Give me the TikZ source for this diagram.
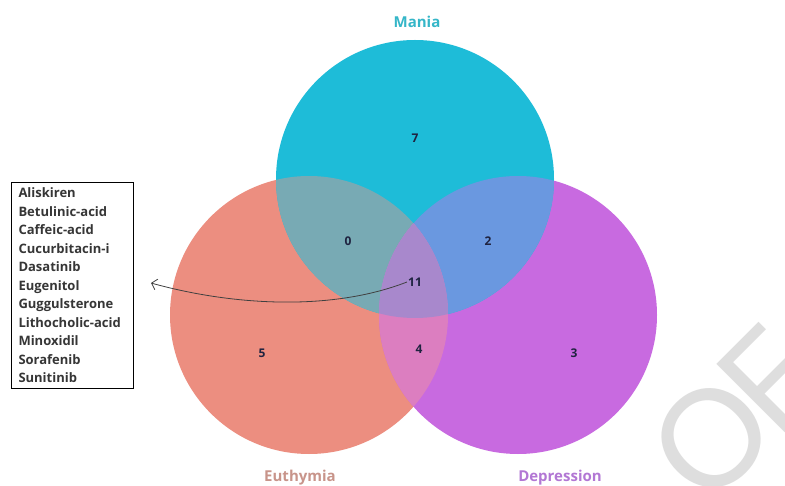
\documentclass[tikz,border=0pt]{standalone}
\usepackage{fontspec}
\setmainfont{Open Sans}
\newfontfamily\wmfont{Lato}
\usetikzlibrary{arrows.meta}
\definecolor{cM}{HTML}{1EBCD8}
\definecolor{cE}{HTML}{EC8E80}
\definecolor{cD}{HTML}{C86AE0}
\definecolor{cME}{HTML}{78AAB4}
\definecolor{cMD}{HTML}{6A98E0}
\definecolor{cED}{HTML}{DC7EC0}
\definecolor{cMED}{HTML}{A888CC}
\definecolor{lM}{HTML}{35B6C8}
\definecolor{lE}{HTML}{C8948A}
\definecolor{lD}{HTML}{B277D4}
\definecolor{numc}{HTML}{1F2340}
\definecolor{listc}{HTML}{363636}
\definecolor{wm}{HTML}{DEDEDE}
\tikzset{
  num/.style={font=\bfseries\fontsize{12}{12}\selectfont, text=numc, inner sep=1pt},
  setlabel/.style={font=\bfseries\fontsize{15}{15}\selectfont, inner sep=1pt},
  listbox/.style={draw=black, line width=1pt, align=left, anchor=north west,
    font=\bfseries\fontsize{13}{18.5}\selectfont, text=listc,
    inner xsep=7pt, inner ysep=5.5pt, text width=108pt},
  pointer/.style={draw=black!75, line width=0.8pt, -{Straight Barb[length=5pt,width=11pt]}}
}
\begin{document}
\begin{tikzpicture}[x=1pt,y=-1pt]
\useasboundingbox[fill=white] (0,0) rectangle (785,486);
% watermark
\begin{scope}
\clip (0,0) rectangle (785,486);
\node[anchor=base east, rotate=45, text=wm, font=\wmfont\fontsize{135}{135}\selectfont, inner sep=0pt] (wmark) at (830,388) {O\kern-12pt F};
\end{scope}
% centres
\coordinate (cm) at (415,179);
\coordinate (ce) at (309,315);
\coordinate (cd) at (518,315);
\def\R{139pt}
% base fills
\fill[cE] (ce) circle[radius=\R];
\fill[cD] (cd) circle[radius=\R];
\fill[cM] (cm) circle[radius=\R];
\begin{scope}
  \clip (cm) circle[radius=\R];
  \fill[cME] (ce) circle[radius=\R];
  \fill[cMD] (cd) circle[radius=\R];
\end{scope}
\begin{scope}
  \clip (ce) circle[radius=\R];
  \fill[cED] (cd) circle[radius=\R];
\end{scope}
\begin{scope}
  \clip (cm) circle[radius=\R];
  \clip (ce) circle[radius=\R];
  \fill[cMED] (cd) circle[radius=\R];
\end{scope}
% set labels
\node[setlabel, text=lM] (lmania) at (417,22) {Mania};
\node[setlabel, text=lE] (leuth) at (300,478) {Euthymia};
\node[setlabel, text=lD] (ldep) at (560,478) {Depression};
% counts
\node[num] (n7) at (415,138) {7};
\node[num] (n0) at (348,241) {0};
\node[num] (n2) at (488,241) {2};
\node[num] (n11) at (415,282) {11};
\node[num] (n5) at (262,353) {5};
\node[num] (n4) at (419,349) {4};
\node[num] (n3) at (574,353) {3};
% list box
\node[listbox] (list) at (11,182) {Aliskiren\\Betulinic-acid\\Caffeic-acid\\Cucurbitacin-i\\Dasatinib\\Eugenitol\\Guggulsterone\\Lithocholic-acid\\Minoxidil\\Sorafenib\\Sunitinib};
% pointer
\coordinate (tip) at (151,283);
\draw[pointer] (n11.west) .. controls (330,312) and (230,305) .. (tip);
\end{tikzpicture}
\end{document}
